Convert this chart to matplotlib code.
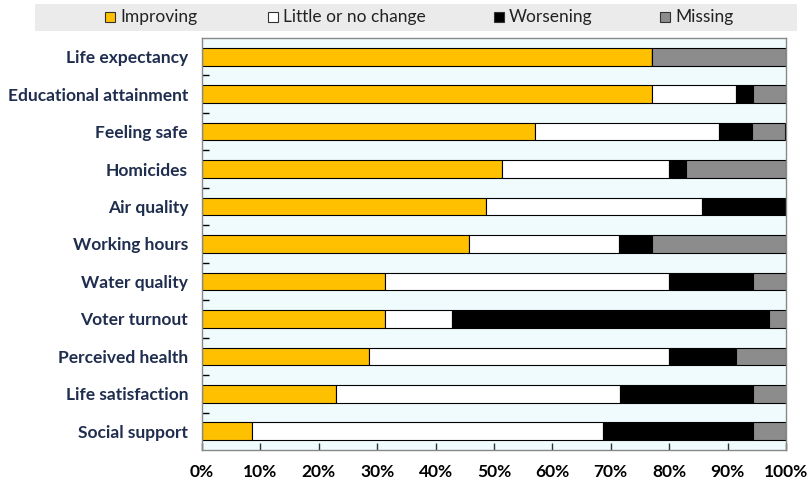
import matplotlib.pyplot as plt
from matplotlib.patches import Rectangle

# =====================================================
# DATA (share of countries, %)
# =====================================================

indicators = [
    'Life expectancy',
    'Educational attainment',
    'Feeling safe',
    'Homicides',
    'Air quality',
    'Working hours',
    'Water quality',
    'Voter turnout',
    'Perceived health',
    'Life satisfaction',
    'Social support',
]

improving = [77.1, 77.1, 57.1, 51.4, 48.6, 45.7, 31.4, 31.4, 28.6, 22.9, 8.6]
little_change = [0.0, 14.3, 31.4, 28.6, 37.1, 25.7, 48.6, 11.4, 51.4, 48.6, 60.0]
worsening = [0.0, 2.9, 5.7, 2.9, 14.3, 5.7, 14.3, 54.3, 11.4, 22.9, 25.7]
missing = [22.9, 5.7, 5.7, 17.1, 0.0, 22.9, 5.7, 2.9, 8.6, 5.7, 5.7]

series_names = ['Improving', 'Little or no change', 'Worsening', 'Missing']
series_colors = ['#ffc000', '#ffffff', '#000000', '#8c8c8c']

xticks = [0, 10, 20, 30, 40, 50, 60, 70, 80, 90, 100]

# =====================================================
# FONT
# =====================================================

plt.rcParams['font.family'] = ['Lato', 'DejaVu Sans']

label_color = '#1f2d4e'

W, H = 808, 482

# =====================================================
# CHART
# =====================================================

fig = plt.figure(figsize=(W / 100, H / 100), dpi=100)
ax = fig.add_axes([202 / W, 32 / H, 584 / W, 412 / H])
ax.set_facecolor('#f0fbfd')

ypos = list(range(len(indicators)))
left = [0.0] * len(indicators)

for values, name, color in zip(
    [improving, little_change, worsening, missing],
    series_names,
    series_colors
):
    ax.barh(
        ypos,
        values,
        left=left,
        height=0.47,
        color=color,
        edgecolor='#000000',
        linewidth=0.8,
        label=name
    )
    left = [l + v for l, v in zip(left, values)]

ax.set_xlim(0, 100)
ax.set_ylim(len(indicators) - 0.5, -0.5)

ax.set_yticks(ypos)
ax.set_yticklabels(indicators, fontsize=12.5, fontweight='bold', color=label_color)
ax.set_yticks([y + 0.5 for y in ypos[:-1]], minor=True)
ax.tick_params(axis='y', which='major', length=0, pad=10)
ax.tick_params(axis='y', which='minor', direction='in', length=5, width=1, color='#000000')

ax.set_xticks(xticks)
ax.set_xticklabels([f'{t}%' for t in xticks], fontsize=12.5, fontweight='bold', color='#000000')
ax.tick_params(axis='x', direction='in', length=5, width=1, color='#333333', pad=10)

for spine in ax.spines.values():
    spine.set_color('#888888')
    spine.set_linewidth(1.0)

# =====================================================
# LEGEND BAND
# =====================================================

fig.patches.append(Rectangle(
    (35 / W, 1 - 31 / H), (797 - 35) / W, 27 / H,
    transform=fig.transFigure, facecolor='#ebebeb', edgecolor='none', zorder=0
))

legend_x = [105, 268, 494, 660]
legend_y = 17

for x, name, color in zip(legend_x, series_names, series_colors):
    fig.patches.append(Rectangle(
        (x / W, 1 - (legend_y + 5) / H), 10 / W, 10 / H,
        transform=fig.transFigure, facecolor=color,
        edgecolor='#333333', linewidth=0.8, zorder=2
    ))
    fig.text(
        (x + 15) / W, 1 - legend_y / H,
        name,
        fontsize=12.5,
        color='#222222',
        ha='left',
        va='center'
    )

plt.savefig('out.png', dpi=100)
plt.close()
